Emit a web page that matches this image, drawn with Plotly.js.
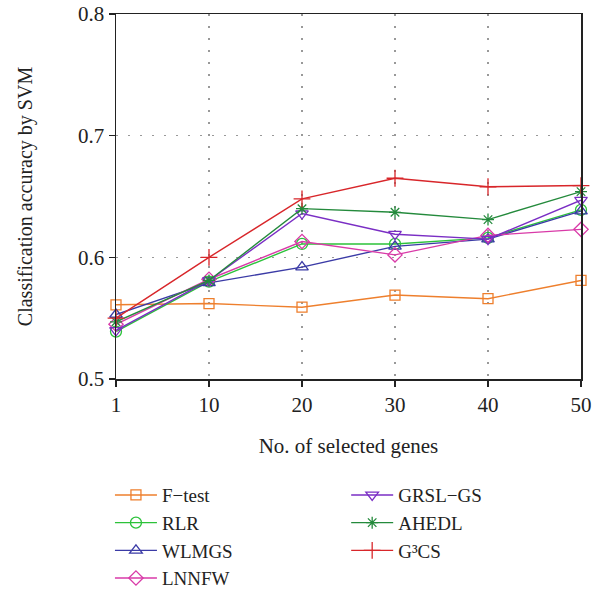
<!DOCTYPE html>
<html>
<head>
<meta charset="utf-8">
<script src="https://cdn.plot.ly/plotly-3.0.1.min.js"></script>
<style>html,body{margin:0;padding:0;background:#fff;}#chart{width:601px;height:591px;}</style>
</head>
<body>
<div id="chart"></div>
<script>
const genes = ["1", "10", "20", "30", "40", "50"];
const fTest = [0.561, 0.562, 0.559, 0.569, 0.566, 0.581];
const rlr   = [0.539, 0.580, 0.611, 0.611, 0.616, 0.639];
const wlmgs = [0.553, 0.579, 0.592, 0.609, 0.615, 0.638];
const lnnfw = [0.545, 0.582, 0.613, 0.602, 0.618, 0.623];
const grsl  = [0.540, 0.581, 0.636, 0.619, 0.615, 0.647];
const ahedl = [0.547, 0.581, 0.640, 0.637, 0.631, 0.654];
const g3cs  = [0.550, 0.600, 0.648, 0.665, 0.658, 0.659];

const names = ["F\u2212test", "RLR", "WLMGS", "LNNFW", "GRSL\u2212GS", "AHEDL", "G\u00b3CS"];
const series = [fTest, rlr, wlmgs, lnnfw, grsl, ahedl, g3cs];
const colors = ["#ee7f2d", "#2cc23a", "#3b3ba6", "#d93aa8", "#7a2ec4", "#248a3c", "#d8262a"];
const symbols = ["square-open", "circle-open", "triangle-up-open", "diamond-open", "triangle-down-open", "asterisk-open", "cross-thin-open"];
const sizes = [10, 11, 11, 11, 11, 10, 12];

const FONT = "Liberation Serif, Times New Roman, serif";

const traces = series.map((ys, i) => ({
  x: genes, y: ys, name: names[i], type: "scatter", mode: "lines+markers",
  cliponaxis: false,
  line: {color: colors[i], width: 1.4},
  marker: {symbol: symbols[i], size: sizes[i], color: colors[i], line: {color: colors[i], width: 1.3}},
  legend: i < 4 ? "legend" : "legend2"
}));

const legendBase = {
  font: {family: FONT, size: 19, color: "#222"},
  bgcolor: "rgba(0,0,0,0)", borderwidth: 0,
  orientation: "v", xanchor: "left", yanchor: "top",
  itemwidth: 42, tracegroupgap: 0
};

const layout = {
  width: 601, height: 591,
  margin: {l: 116, r: 20, t: 14, b: 212, autoexpand: false},
  paper_bgcolor: "#fff", plot_bgcolor: "#fff",
  font: {family: FONT, size: 20, color: "#222"},
  showlegend: true,
  xaxis: {
    type: "category", range: [0, 5],
    showline: true, linecolor: "#222", linewidth: 1.5, mirror: true,
    ticks: "outside", ticklen: 6, tickcolor: "#222", tickwidth: 1.3,
    showgrid: true, gridcolor: "#999", griddash: "2px,10px", gridwidth: 1.2,
    zeroline: false,
    tickfont: {family: FONT, size: 21, color: "#222"},
    title: {text: "No. of selected genes", font: {family: FONT, size: 21, color: "#222"}}
  },
  yaxis: {
    range: [0.5, 0.8], dtick: 0.1, tick0: 0.5, tickformat: ".1f",
    automargin: true,
    showline: true, linecolor: "#222", linewidth: 1.5, mirror: true,
    ticks: "outside", ticklen: 6, tickcolor: "#222", tickwidth: 1.3,
    showgrid: true, gridcolor: "#999", griddash: "2px,10px", gridwidth: 1.2,
    zeroline: false,
    tickfont: {family: FONT, size: 21, color: "#222"},
    title: {text: "Classification accuracy by SVM", font: {family: FONT, size: 20, color: "#222"}, standoff: 40}
  },
  legend: Object.assign({}, legendBase, {x: -0.013, y: -0.266}),
  legend2: Object.assign({}, legendBase, {x: 0.495, y: -0.266})
};

Plotly.newPlot("chart", traces, layout, {displayModeBar: false, staticPlot: true});
</script>
</body>
</html>
